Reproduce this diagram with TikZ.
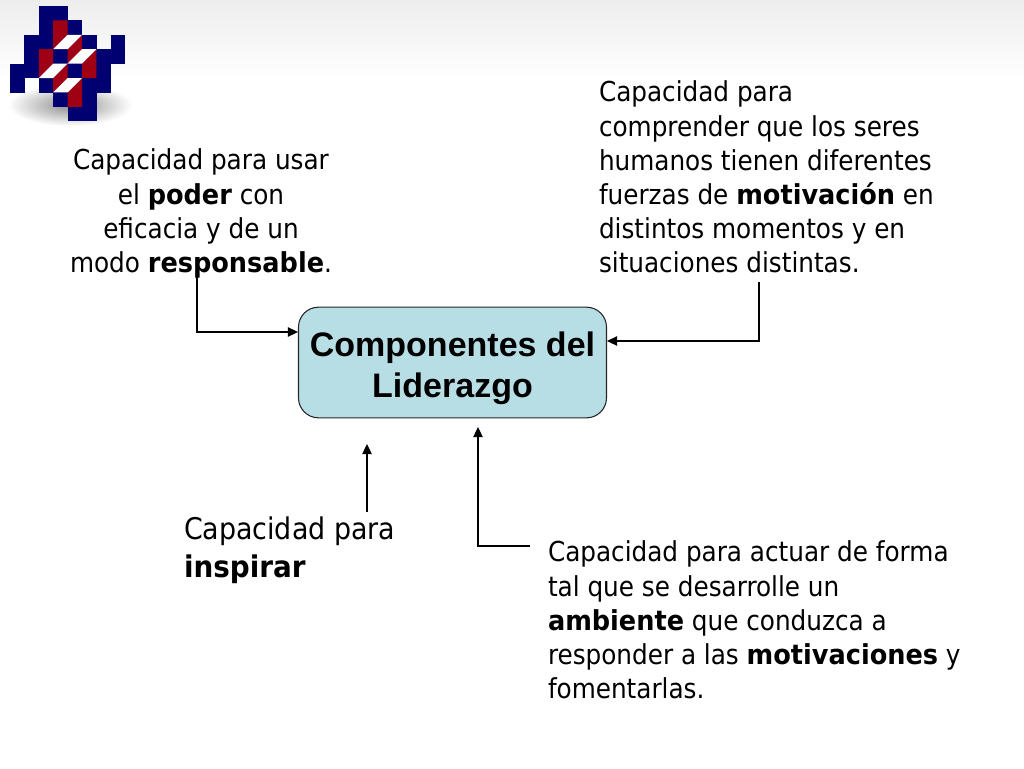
\documentclass[tikz,border=0pt]{standalone}
\usepackage{fontspec}
\setmainfont[BoldFeatures={FakeStretch=1.035}]{DejaVu Sans Condensed}
\newfontfamily\arialfont{Liberation Sans}
\usetikzlibrary{arrows.meta,shadings}
\definecolor{logoblue}{RGB}{0,0,112}
\definecolor{logored}{RGB}{160,0,20}
\definecolor{boxfill}{RGB}{184,222,229}
\tikzset{
  x=0.75pt,y=-0.75pt,
  body/.style={inner sep=0pt,outer sep=0pt,font=\fontsize{20.6pt}{25.6pt}\selectfont,align=left,anchor=north west},
  conn/.style={draw=black,line width=0.9pt,-{Triangle[length=7.5pt,width=7pt]}},
  cb/.style={fill=logoblue,draw=none},
  cr/.style={fill=logored,draw=none},
  cw/.style={fill=white,draw=none}
}
\begin{document}
\begin{tikzpicture}
\useasboundingbox (0,0) rectangle (1024,768);
\fill[white] (0,0) rectangle (1024,768);
\shade[top color=black!7,bottom color=white] (0,0) rectangle (1024,80);
% logo shadow
\shade[inner color=black!45,outer color=white] (70,105) ellipse [x radius=62,y radius=21];
% logo cells
\begin{scope}[shift={(10,6)},x=10.8pt,y=-10.8pt]
\foreach \c/\r in {2/0,3/0,2/1,3/1,4/1,1/2,2/2,3/2,4/2,5/2,7/2,1/3,2/3,3/3,4/3,5/3,6/3,7/3,0/4,1/4,2/4,3/4,4/4,5/4,6/4,0/5,2/5,3/5,4/5,5/5,6/5,3/6,4/6,5/6,4/7,5/7}
  \fill[cb] (\c,\r) rectangle ++(1.01,1.01);
\fill[cr] (3,1) -- (4,1) -- (4,2) -- (3,3) -- cycle;
\fill[cr] (4,3) -- (5,2) -- (5,3) -- (4,4) -- cycle;
\fill[cr] (2,3) -- (3,3) -- (3,4) -- (2,5) -- cycle;
\fill[cr] (5,4) -- (6,3) -- (6,5) -- (5,5) -- cycle;
\fill[cr] (3,5) -- (4,4) -- (4,5) -- (3,6) -- cycle;
\fill[cr] (4,6) -- (5,5) -- (5,7) -- (4,7) -- cycle;
\fill[cw] (3,3) -- (4,2) -- (5,2) -- (4,3) -- cycle;
\fill[cw] (4,4) -- (5,3) -- (6,3) -- (5,4) -- cycle;
\fill[cw] (2,5) -- (3,4) -- (4,4) -- (3,5) -- cycle;
\fill[cw] (3,6) -- (4,5) -- (5,5) -- (4,6) -- cycle;
\end{scope}
% main box
\node[draw=black!85,line width=0.8pt,fill=boxfill,rounded corners=15pt,minimum width=231pt,minimum height=83pt,inner sep=0pt,align=center,font=\arialfont\bfseries\fontsize{25.5pt}{31pt}\selectfont] (main) at (452.5,362.5) {\rule{0pt}{27pt}Componentes del\\Liderazgo};
% texts
\node[body,align=center,anchor=north] (poder) at (201,149) {Capacidad para usar\\el \textbf{poder} con\\eficacia y de un\\modo \textbf{responsable}.};
\node[body] (motiv) at (599,81) {Capacidad para\\comprender que los seres\\humanos tienen diferentes\\fuerzas de \textbf{motivación} en\\distintos momentos y en\\situaciones distintas.};
\node[body,font=\fontsize{22.4pt}{28.5pt}\selectfont] (insp) at (184,517) {Capacidad para\\\textbf{inspirar}};
\node[body] (amb) at (548,541) {Capacidad para actuar de forma\\tal que se desarrolle un\\\textbf{ambiente} que conduzca a\\responder a las \textbf{motivaciones} y\\fomentarlas.};
% connector ends
\coordinate (a0) at (197,272);
\coordinate (a1) at (main.west |- 0,332);
\coordinate (b0) at (759,282);
\coordinate (b1) at (main.east |- 0,341);
\coordinate (c0) at (367,512);
\coordinate (c1) at (367,444);
\coordinate (d0) at (530,546);
\coordinate (d1) at (478,427);
\draw[conn] (a0) |- (a1);
\draw[conn] (b0) |- (b1);
\draw[conn] (c0) -- (c1);
\draw[conn] (d0) -| (d1);
\end{tikzpicture}
\end{document}
